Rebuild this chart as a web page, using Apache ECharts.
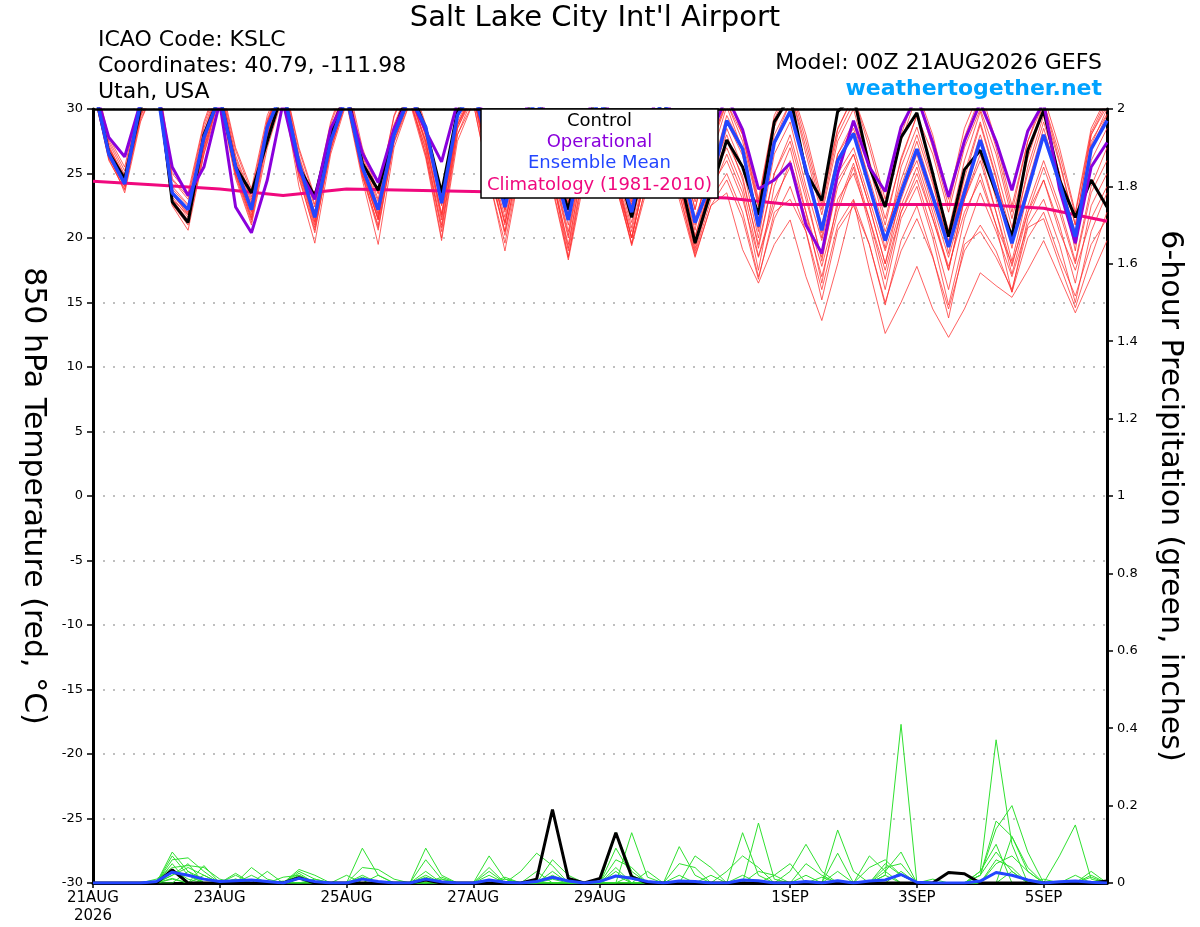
<!DOCTYPE html>
<html>
<head>
<meta charset="utf-8">
<script src="https://cdn.jsdelivr.net/npm/echarts/dist/echarts.min.js"></script>
<style>html,body{margin:0;padding:0;background:#fff;}#chart{width:1200px;height:927px;}</style>
</head>
<body>
<div id="chart"></div>
<script>
const FONT = '"DejaVu Sans", Verdana, sans-serif';

// forecast hours (6-hourly, 00Z 21AUG2026 .. 00Z 06SEP2026)
const hours = [0,6,12,18,24,30,36,42,48,54,60,66,72,78,84,90,96,102,108,114,120,126,132,138,144,150,156,162,168,174,180,186,192,198,204,210,216,222,228,234,240,246,252,258,264,270,276,282,288,294,300,306,312,318,324,330,336,342,348,354,360,366,372,378,384];
const tickIndex = [0,8,16,24,32,44,52,60];
const tickText = ['21AUG\n2026','23AUG','25AUG','27AUG','29AUG','1SEP','3SEP','5SEP'];

// 850 hPa temperature (deg C)
const controlT = [32,26.6,24.6,30, 33,22.8,21.2,28, 31,25.5,23.5,27.5, 31.5,25.5,23.2,28, 31.5,25.8,23.7,28.3, 31.5,28.5,23.5,29.8, 32,27,22.8,28, 32,26,22.2,28, 32,26,21.6,27, 31,25,19.6,23.6, 27.6,25.5,21.8,29, 31,25.1,22.9,29.8, 31,25.5,22.4,27.8, 29.7,25,20.1,25.3, 26.8,23.5,20.1,26.8, 29.9,24.5,21.6,24.5, 22.4];
const operationalT = [32,27.8,26.3,30.5, 32,25.5,23.3,25.5, 30.5,22.4,20.4,24.5, 30.5,25.3,23,28.5, 31,26.6,24.3,28.5, 31,28.3,25.9,30.5, 32,28,25,29, 32,27.5,24.5,29, 32,28,25,29, 32,27,24,28, 31,28.4,23.8,24.5, 25.8,21,18.8,25, 29.1,25.5,23.6,28.6, 31,27.4,23.2,27.5, 30.5,27.5,23.7,28.3, 30.5,23.8,19.6,25.5, 27.4];
const meanT = [32,26.5,24.2,30.5, 32,23.5,22.2,27.8, 31,25.5,22.2,28.6, 31.5,25.8,21.6,27.5, 31,25.5,22.2,28, 31,28.6,22.7,29.5, 31.5,27,22.4,27.5, 31,26,21.4,27.5, 31,26,22,27.5, 31,26.5,21.2,24.3, 29.1,26.9,20.9,27.4, 29.8,25.3,20.6,26, 28.1,24,19.8,23.5, 26.9,23.2,19.3,23.5, 27.6,23.7,19.6,23.7, 28,24.3,20.1,26.9, 29.1];
// climatology, one value per day at 00Z (index 0,4,8,...,64)
const climDaily = [24.4,24.1,23.8,23.3,23.8,23.7,23.6,23.5,23.4,23.3,23.1,22.6,22.6,22.6,22.6,22.3,21.3];

const member01 = [32,27,24.8,30, 32.5,23.8,22.5,28, 31.5,26,22.8,28.8, 32,26.2,22.4,28, 31.5,26,22.8,28.5, 31.5,28,23,29.5, 32,27,22.6,28, 31.5,26.4,22,28, 32,26.5,22.4,28, 31.5,26.8,21.6,25, 29.5,27,21.5,28, 30.5,25.5,21,26.5, 28.5,24.6,20.5,24, 27.5,23.5,19.8,24, 28,24,19.8,24.2, 28.5,24.5,20.5,27, 29.5];
const member02 = [31.5,26.2,24,29.5, 32,23,21.8,27, 31,25,21.5,28, 31.5,25.4,21.2,27.5, 31,25.5,21.8,28, 31,27.5,21.6,29, 31.5,26,21.2,27, 31,25.5,20.2,27, 31,25.5,20.8,27, 30.5,25.8,20.2,24, 28.5,25.5,20,26.5, 29,24,19.8,25, 27,23,19,23, 26.5,22.5,18.5,23, 27.5,23,18.2,23.5, 28,24.5,19.5,26, 28.5];
const member03 = [32.5,27.2,24.5,30.5, 33,24.5,23,28.5, 32,26.4,23.2,29, 32,25.5,22,28.3, 31.8,25,21.5,28, 32,27.8,22.5,29.5, 32,27,22,28, 32,26,21,27.5, 31.5,25.8,21.2,26.5, 30,25.5,20.6,27, 30.5,28,22.5,29, 31.5,27,22.2,28, 30.5,26,21.5,26, 29.5,26.5,22,27, 30,26.5,21.5,26.5, 30.5,26,21,28, 30.5];
const member04 = [31.8,26.5,23.5,29, 32,22.6,21,26.5, 30.5,24.6,21,27, 31,24,19.6,26.5, 30.5,24.5,19.5,27, 30.5,27,20.5,28.5, 31,25,20.5,26.5, 30.5,24.5,19.5,26, 30.5,24.5,20,25.5, 29.5,24.5,19.5,24.5, 27.5,24.8,19.2,25, 28,23.5,18.2,24.5, 26.5,22.5,18,22.5, 25.5,21.5,17.5,23, 26.5,22,17.2,22, 25.5,22,18,23.5, 26];
const member05 = [32.2,26.8,24.4,30.2, 32.8,23.5,22.2,27.8, 31.5,25.6,22.2,28.4, 31.8,25.8,21.8,27.6, 31.2,25.6,22.2,28.2, 31.2,28.2,22.6,29.6, 31.6,26.6,22.2,27.6, 31.2,26,21.4,27.6, 31.4,26,21.8,27.4, 31,26.4,21.2,24.6, 29,26.4,20.8,27.2, 29.8,25.2,20.4,26, 28.2,24,20,24.5, 28,24.2,19.6,24.6, 28.8,24.6,20.2,25, 29,25,20.2,27.5, 29.6];
const member06 = [33,27.8,25.5,31, 33.5,25,23.5,29, 32.5,27,23.8,29.5, 32.5,27,23.2,29, 32.5,27,23.5,29.5, 32.5,28.8,23.5,30, 32.5,28,23,29, 32.5,27.5,22.8,29, 33,28,23,29.5, 32.5,28,22.8,27, 31,28.5,23,29.5, 32,28,23,28.5, 31,27.5,23,28, 31.5,28,23,28.5, 31.5,27.5,22.5,27.5, 31,27,22,28.5, 31];
const member07 = [31.6,26,23.8,29.6, 32.2,22.5,20.6,26.5, 31.2,25,21.4,27.8, 31,24.8,20.4,27, 30.6,25,20.8,27.5, 30.8,26.5,20,28, 31,25.5,20.5,26.5, 30.5,25,19.2,26.5, 30,24.5,20,25.5, 29,24,19,23.5, 26.5,23.5,17.5,24, 27,22,16.5,23, 25,21.5,16.8,22, 24.5,20.5,16,21.5, 25,21,15.8,21.5, 24.5,21,16.5,22.5, 25];
const member08 = [32,26.6,24.2,29.8, 32.4,23.2,21.6,27.2, 31.4,25.4,22,28.2, 31.6,25.2,21,27.2, 31,25.2,21.4,27.8, 31,26.8,21,28.5, 31.2,25.8,21.2,26.8, 30.6,24.8,18.5,25.5, 30,24,19.6,24.5, 28.5,23,18.5,22.5, 23.5,19.1,16.5,19.5, 21.4,17,13.6,18, 22.9,17.5,12.6,15, 17.8,14.5,12.3,14.5, 17.3,16.3,15.4,17.5, 19.8,17,14.2,17, 19.8];
const member09 = [31.4,26.3,24,29.2, 31.8,22.8,21.2,27, 31,25,21.8,28, 31.2,25,20.8,26.8, 30.8,24.8,21,27.5, 30.8,26.4,20.8,28, 30.5,24.5,19.6,25.8, 29.5,24,18.5,25, 29.5,24.5,19.5,24.5, 28.5,23.5,18.8,23, 25,22,17,21.5, 24,20.5,16,21, 23,19.5,15,19, 21.5,18.5,14.5,19, 21,19,15.8,20, 22,18.5,15.5,19.5, 21.5];
const member10 = [32.3,27,24.6,30, 32.6,23.6,22,27.6, 31.6,25.8,22.6,28.6, 31.8,25.6,21.6,27.8, 31.4,25.4,21.6,28, 31.4,27.5,21.8,28.8, 31.4,26.2,21.6,27.2, 31,25.6,20.5,27, 30.5,25,20,26, 29,24.5,19.2,24.5, 27,24,18.6,23, 25.5,21.5,17,22, 25.5,21,16,21.5, 24,20,14.8,20, 23.5,20.5,17,21, 23,19.5,15,20.5, 23.5];
const member11 = [32.6,27.4,24.9,30.6, 33,24,22.6,28.2, 31.8,26.2,23,29, 32.2,26.4,22.6,28.4, 31.6,26.4,23,28.8, 31.8,28.4,23.2,29.8, 32.2,27.4,22.8,28.4, 31.8,26.8,22.2,28.4, 32.4,27,22.6,28.5, 31.5,27.2,22.2,27.5, 30.5,27.5,22.4,28.6, 31.5,26.5,21.8,27.5, 30,25.5,21,26.2, 29.5,24.8,20.6,26, 29.8,25.4,20.8,26.2, 30,25.8,21,28, 30.2];
const member12 = [31.9,26.4,24.1,29.9, 32.3,23,21.4,27.4, 31.3,25.3,21.6,28, 31.4,25.2,21.3,27.4, 31.2,25.3,21.4,28, 31.2,27.2,21.4,28.7, 31.2,25.6,20.2,26, 30.2,24.5,19,25.5, 30,25,20,25.5, 28.5,24,19.5,24, 26,23,18.5,22.5, 26,22,17.8,22.5, 25.8,21.5,17.5,22, 25,21.5,17.8,22, 24.5,21,18,22, 24.5,20.5,17.5,21.5, 24];
const member13 = [32.4,27,24.3,30.4, 33.2,23.4,21.8,28, 32,25.8,22.4,29, 32.4,26,22,28.4, 32,26.2,22.4,28.6, 32,28,22.8,29.8, 32.4,27,22.2,28.2, 32,26.5,21.6,28.4, 32.2,26.5,21.8,28.4, 31.6,27,21,26.2, 30.2,26.8,20.5,27.5, 30.5,25.6,20,26.5, 29,24.2,19.2,25.5, 28.6,24.5,18.8,25, 29,24.8,19.2,25.5, 29.5,25,19,27.2, 30];
const member14 = [31.7,26.1,23.7,29.4, 32,22.8,21.2,26.8, 30.8,24.8,21.2,27.5, 31.2,24.6,20.6,26.8, 30.8,24.8,20.6,27.4, 30.5,26.2,19.8,27.5, 30.5,24.6,19,25.6, 29.6,23.8,18.3,24.5, 29.5,24.2,19.4,24, 28,23.5,18.6,22.5, 24.5,21.5,16.8,22, 23,20.5,15.2,20.6, 22.5,19.5,14.8,19.8, 22.5,18.6,13.8,19.5, 20.5,18.5,16,20.8, 21.5,18,14.6,18.5, 22];
const member15 = [32.8,27.6,25.2,30.8, 33.2,24.6,23.2,28.8, 32.2,26.8,23.5,29.2, 32.4,26.8,23,28.8, 32.2,26.6,23.4,29.4, 32.2,28.6,23.4,30, 32.4,27.6,23,28.8, 32.2,27.2,22.6,28.8, 32.6,27.4,22.8,29, 32,27.6,22.2,28, 31.2,28,22.8,29.2, 31.8,27.5,22.6,28.4, 31,27,22.5,27.5, 31,27,22.5,27.8, 31,27,22,27.5, 30.5,26.5,21.8,28.2, 30.8];
const member16 = [32.1,26.7,24.3,29.8, 32.4,23.4,21.9,27.4, 31.4,25.4,22.1,28.2, 31.6,25.5,21.5,27.6, 31.2,25.5,21.9,28, 31.2,27.4,21.9,28.8, 31.2,25.8,21,27, 30.8,25.2,20,26.5, 30.5,25,20.5,26, 30,25,20,25, 28,24.5,19.5,25, 27.5,23,18.5,24, 26.5,22.5,18,23.5, 26,22,17.5,23, 26,22,17.8,22.5, 26,22.5,18.2,24, 27];

// 6-hour precipitation (inches); [time index, value], all other steps are 0
const precipControl = [[5,0.034],[13,0.014],[21,0.008],[28,0.01],[29,0.19],[30,0.012],[32,0.012],[33,0.13],[34,0.016],[54,0.027],[55,0.024],[64,0.005]];
const precipMean = [[4,0.004],[5,0.028],[6,0.02],[7,0.01],[8,0.004],[9,0.006],[10,0.008],[11,0.004],[13,0.012],[14,0.004],[17,0.01],[18,0.004],[21,0.01],[22,0.003],[25,0.008],[26,0.002],[28,0.004],[29,0.015],[30,0.005],[32,0.004],[33,0.018],[34,0.012],[35,0.004],[37,0.005],[38,0.004],[41,0.008],[42,0.006],[45,0.004],[47,0.006],[49,0.005],[50,0.008],[51,0.022],[52,0.002],[56,0.005],[57,0.027],[58,0.02],[59,0.008],[61,0.003],[62,0.005],[63,0.002]];
const precipM01 = [[5,0.08],[6,0.03],[7,0.01],[13,0.02],[17,0.09],[18,0.02],[33,0.13],[34,0.03],[50,0.02],[51,0.41]];
const precipM02 = [[5,0.06],[6,0.065],[7,0.03],[10,0.04],[11,0.01],[21,0.09],[22,0.02],[41,0.13],[42,0.02],[56,0.03],[57,0.37],[58,0.1]];
const precipM03 = [[4,0.01],[5,0.04],[6,0.045],[7,0.04],[8,0.01],[13,0.03],[14,0.01],[25,0.07],[26,0.01],[37,0.094],[38,0.02],[56,0.02],[57,0.14],[58,0.2],[59,0.08]];
const precipM04 = [[5,0.03],[6,0.02],[9,0.02],[12,0.005],[17,0.04],[18,0.035],[19,0.01],[27,0.03],[28,0.077],[29,0.045],[34,0.13],[35,0.015],[42,0.155],[43,0.01],[61,0.07],[62,0.15],[63,0.01]];
const precipM05 = [[5,0.02],[6,0.05],[11,0.03],[13,0.025],[21,0.06],[22,0.01],[26,0.015],[29,0.03],[38,0.07],[39,0.04],[44,0.03],[45,0.1],[46,0.03],[50,0.05],[51,0.02],[58,0.12],[59,0.04]];
const precipM06 = [[5,0.05],[7,0.045],[13,0.035],[14,0.02],[25,0.03],[33,0.06],[34,0.04],[47,0.137],[48,0.03],[56,0.03],[57,0.1]];
const precipM07 = [[6,0.03],[9,0.01],[16,0.02],[21,0.03],[29,0.06],[30,0.02],[37,0.05],[38,0.04],[43,0.02],[44,0.05],[47,0.077],[49,0.04],[50,0.06],[51,0.02],[60,0.01],[63,0.02]];
const precipM08 = [[5,0.07],[6,0.02],[10,0.02],[17,0.02],[25,0.04],[28,0.03],[33,0.09],[34,0.02],[40,0.03],[41,0.07],[42,0.04],[49,0.07],[50,0.03],[57,0.05],[58,0.07],[59,0.03]];
const precipM09 = [[5,0.012],[13,0.01],[22,0.015],[33,0.03],[45,0.05],[46,0.02],[50,0.03],[51,0.08],[56,0.02],[57,0.16],[58,0.12],[59,0.03],[63,0.03]];
const precipM10 = [[5,0.02],[6,0.04],[7,0.02],[9,0.025],[14,0.01],[18,0.02],[21,0.02],[26,0.01],[29,0.02],[33,0.02],[35,0.03],[39,0.02],[45,0.02],[47,0.03],[50,0.02],[53,0.01],[58,0.03],[62,0.02]];
const precipM11 = [[5,0.01],[7,0.02],[12,0.015],[13,0.02],[17,0.015],[22,0.01],[25,0.02],[33,0.04],[37,0.02],[41,0.02],[46,0.015],[51,0.03],[57,0.06],[58,0.04],[63,0.015]];
const precipM12 = [[4,0.005],[5,0.035],[6,0.01],[9,0.01],[13,0.015],[21,0.015],[29,0.01],[34,0.02],[42,0.03],[43,0.02],[50,0.04],[51,0.05],[56,0.02],[57,0.08],[58,0.03]];

const tempMembers = [member01,member02,member03,member04,member05,member06,member07,member08,member09,member10,member11,member12,member13,member14,member15,member16];
const precipMembers = [precipM01,precipM02,precipM03,precipM04,precipM05,precipM06,precipM07,precipM08,precipM09,precipM10,precipM11,precipM12];

function expand(pairs) {
  const out = hours.map(() => 0);
  pairs.forEach(([i, v]) => { out[i] = v; });
  return out;
}
const climSeries = hours.map((h, i) => (i % 4 === 0 ? climDaily[i / 4] : null));

const chart = echarts.init(document.getElementById('chart'), null, { renderer: 'canvas' });

const series = [];
tempMembers.forEach((m, k) => series.push({
  name: 'Member ' + (k + 1), type: 'line', data: m, yAxisIndex: 0,
  symbol: 'none', silent: true, emphasis: { disabled: true },
  lineStyle: { color: 'rgba(255,45,45,0.75)', width: 1 }, z: 2
}));
precipMembers.forEach((m, k) => series.push({
  name: 'Precip member ' + (k + 1), type: 'line', data: expand(m), yAxisIndex: 1,
  symbol: 'none', silent: true, emphasis: { disabled: true },
  lineStyle: { color: '#2fe02f', width: 1 }, z: 2
}));
series.push({ name: 'Climatology (1981-2010)', type: 'line', data: climSeries, connectNulls: true, yAxisIndex: 0,
  symbol: 'none', silent: true, emphasis: { disabled: true }, lineStyle: { color: '#f0087e', width: 3 }, z: 3 });
series.push({ name: 'Control precip', type: 'line', data: expand(precipControl), yAxisIndex: 1,
  symbol: 'none', silent: true, emphasis: { disabled: true }, lineStyle: { color: '#000', width: 3 }, z: 4 });
series.push({ name: 'Ensemble Mean precip', type: 'line', data: expand(precipMean), yAxisIndex: 1,
  symbol: 'none', silent: true, emphasis: { disabled: true }, lineStyle: { color: '#2346ff', width: 3 }, z: 5 });
series.push({ name: 'Control', type: 'line', data: controlT, yAxisIndex: 0,
  symbol: 'none', silent: true, emphasis: { disabled: true }, lineStyle: { color: '#000', width: 3 }, z: 4 });
series.push({ name: 'Operational', type: 'line', data: operationalT, yAxisIndex: 0,
  symbol: 'none', silent: true, emphasis: { disabled: true }, lineStyle: { color: '#8a00dc', width: 3 }, z: 5 });
series.push({ name: 'Ensemble Mean', type: 'line', data: meanT, yAxisIndex: 0,
  symbol: 'none', silent: true, emphasis: { disabled: true }, lineStyle: { color: '#2346ff', width: 3.5 }, z: 6 });

function txt(x, y, text, size, color, align, weight) {
  return { type: 'text', x: x, y: y, z: 101, silent: true,
    style: { text: text, fill: color, font: (weight || 'normal') + ' ' + size + 'px ' + FONT,
      textAlign: align, textVerticalAlign: 'middle', align: align, verticalAlign: 'middle' } };
}

chart.setOption({
  animation: false,
  backgroundColor: '#fff',
  grid: { left: 93, right: 93, top: 109, bottom: 44, show: false },
  legend: { show: false },
  xAxis: [
    { type: 'category', data: hours.map(String), boundaryGap: false, position: 'bottom',
      axisLine: { onZero: false, lineStyle: { color: '#000', width: 3 } },
      axisTick: { interval: (i) => tickIndex.includes(i), length: 5, lineStyle: { color: '#000', width: 1.5 } },
      axisLabel: { interval: (i) => tickIndex.includes(i), formatter: (v, i) => tickText[tickIndex.indexOf(i)] || '',
        fontFamily: FONT, fontSize: 15, lineHeight: 18, color: '#000', margin: 6 },
      splitLine: { show: false } },
    { type: 'category', data: hours.map(String), boundaryGap: false, position: 'top', z: 10,
      axisLine: { onZero: false, lineStyle: { color: '#000', width: 2.5 } },
      axisTick: { show: false }, axisLabel: { show: false }, splitLine: { show: false } }
  ],
  yAxis: [
    { type: 'value', min: -30, max: 30, interval: 5, position: 'left',
      name: '850 hPa Temperature (red, °C)', nameLocation: 'middle', nameRotate: -90, nameGap: 45,
      nameTextStyle: { fontFamily: FONT, fontSize: 30, color: '#000' },
      axisLine: { show: true, onZero: false, lineStyle: { color: '#000', width: 3 } },
      axisTick: { show: true, length: 6, lineStyle: { color: '#000', width: 1.5 } },
      axisLabel: { fontFamily: FONT, fontSize: 13, color: '#000', margin: 10 },
      splitLine: { show: true, lineStyle: { color: '#aaa', width: 1.5, type: [2, 8] } } },
    { type: 'value', min: 0, max: 2, interval: 0.2, position: 'right',
      name: '6-hour Precipitation (green, inches)', nameLocation: 'middle', nameRotate: -90, nameGap: 48,
      nameTextStyle: { fontFamily: FONT, fontSize: 30, color: '#000' },
      axisLine: { show: true, onZero: false, lineStyle: { color: '#000', width: 3 } },
      axisTick: { show: true, length: 6, lineStyle: { color: '#000', width: 1.5 } },
      axisLabel: { fontFamily: FONT, fontSize: 13, color: '#000', margin: 10,
        formatter: (v) => String(Math.round(v * 10) / 10) },
      splitLine: { show: false } }
  ],
  graphic: [
    txt(595, 18, "Salt Lake City Int'l Airport", 29, '#000', 'center'),
    txt(98, 40, 'ICAO Code: KSLC', 22, '#000', 'left'),
    txt(98, 66, 'Coordinates: 40.79, -111.98', 22, '#000', 'left'),
    txt(98, 92, 'Utah, USA', 22, '#000', 'left'),
    txt(1102, 63, 'Model: 00Z 21AUG2026 GEFS', 22, '#000', 'right'),
    txt(1102, 89, 'weathertogether.net', 22, '#00a2ff', 'right', 'bold'),
    { type: 'rect', z: 100, silent: true, shape: { x: 481, y: 109, width: 237, height: 89 },
      style: { fill: '#fff', stroke: '#000', lineWidth: 1.5 } },
    txt(599.5, 121, 'Control', 18, '#000', 'center'),
    txt(599.5, 142, 'Operational', 18, '#8a00dc', 'center'),
    txt(599.5, 163, 'Ensemble Mean', 18, '#2346ff', 'center'),
    txt(599.5, 185, 'Climatology (1981-2010)', 18, '#f0087e', 'center')
  ],
  series: series
});
</script>
</body>
</html>
